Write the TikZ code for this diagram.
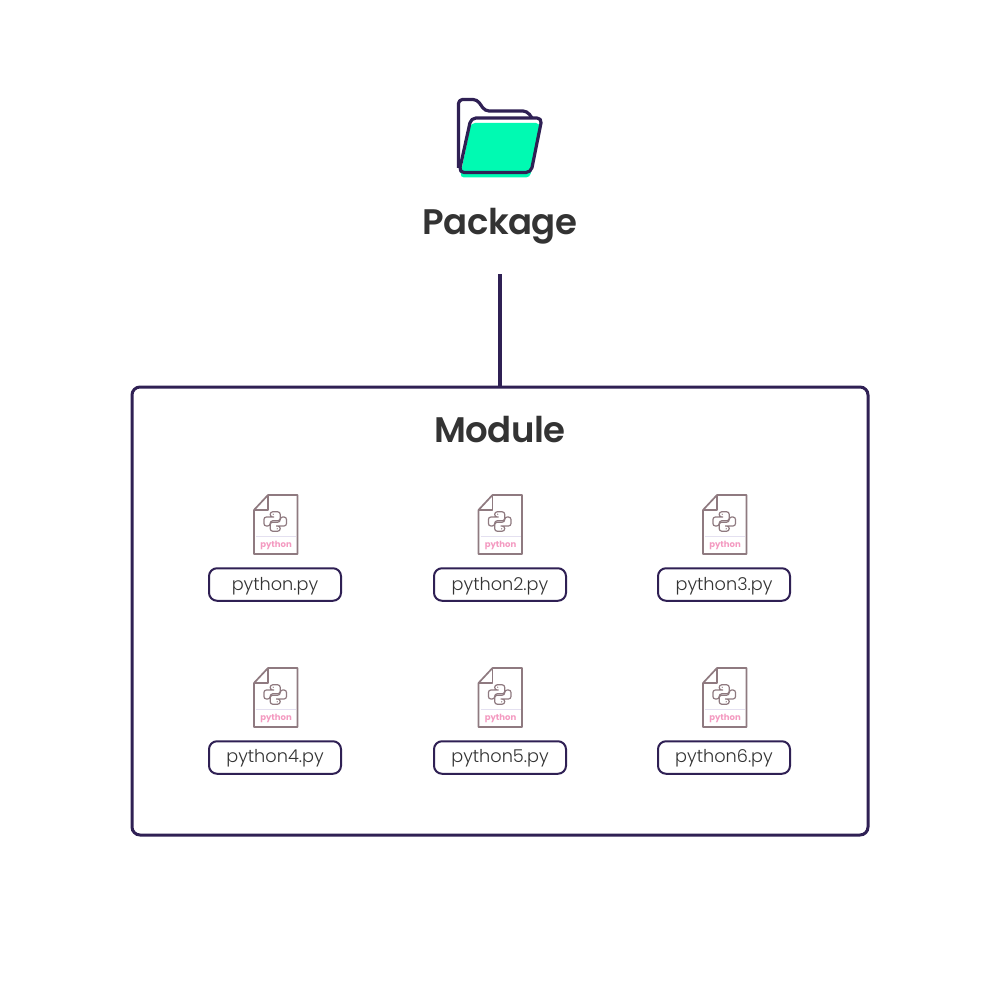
\documentclass[tikz,border=0pt]{standalone}
\usepackage{fontspec}
\setmainfont{Poppins}
\newfontfamily\headfont[LetterSpace=-1.5]{Poppins SemiBold}
\newfontfamily\labelfont{Poppins Light}
\usetikzlibrary{calc}
\definecolor{ink}{HTML}{2F2054}
\definecolor{mint}{HTML}{00FAB2}
\definecolor{txt}{HTML}{333333}
\definecolor{filec}{HTML}{8F7A80}
\definecolor{pinkc}{HTML}{F49AC1}
\definecolor{lav}{HTML}{E4E0F0}
\tikzset{
  x=1pt,y=-1pt,
  headtext/.style={text=txt,font=\headfont\fontsize{35.5}{36}\selectfont,anchor=base,inner sep=0pt},
  filebox/.style={draw=ink,line width=2pt,rounded corners=8pt,minimum width=132pt,minimum height=32.5pt,inner sep=0pt},
  filetext/.style={text=txt,font=\labelfont\fontsize{17.7}{18}\selectfont,anchor=base,inner sep=0pt},
  outerbox/.style={draw=ink,line width=3pt,rounded corners=8pt,minimum width=736pt,minimum height=448pt,inner sep=0pt},
  link/.style={draw=ink,line width=3.5pt},
  pics/pyfile/.style={code={
    \draw[filec,line width=1.7pt,line join=round] (-8,-30) -- (21.5,-30) -- (21.5,29) -- (-22,29) -- (-22,-15) -- cycle;
    \draw[filec,line width=1.7pt,line join=round] (-8,-30) -- (-8,-15) -- (-22,-15);
    \draw[lav,line width=1pt] (-20,11) -- (20,11);
    \node[text=pinkc,font=\fontsize{8.5}{8.5}\selectfont\bfseries,anchor=base,inner sep=0pt] at (0,22.5) {python};
    \foreach \r in {0,180}{
      \begin{scope}[shift={(-0.8,-3.5)},rotate=\r]
      \draw[filec,line width=1.2pt,rounded corners=2.5pt] (0.5,-4.5) -- (-5,-4.5) -- (-5,-9.7) -- (5,-9.7) -- (5,-0.7) -- (-5,-0.7) -- (-5,4.5) -- (-11.3,4.5) -- (-11.3,-4.5) -- cycle;
      \fill[filec] (-2,-7.3) circle (0.7);
      \end{scope}
    }
  }}
}
\begin{document}
\begin{tikzpicture}
\useasboundingbox (0,0) rectangle (1000,1000);
\fill[white] (0,0) rectangle (1000,1000);
% folder
\fill[mint,rounded corners=4pt] (471,123) -- (540,123) -- (530,177.5) -- (460,177.5) -- cycle;
\draw[ink,line width=3.2pt,line join=round,rounded corners=4pt] (458.5,168) -- (458.5,99.5) -- (477,99.5) -- (485,111) -- (527,111) -- (532,118);
\draw[ink,line width=3.2pt,line join=round,rounded corners=5pt] (471,118) -- (542,118) -- (531,172.5) -- (459,172.5) -- cycle;
\node[headtext] (pkg) at (500,235) {Package};
\node[outerbox] (module) at (500,611) {};
\coordinate (linktop) at (500,274);
\draw[link] (linktop) -- (module.north);
\node[headtext] (modtitle) at (500,442) {Module};
\node[filebox] (f1) at (275,584.5) {};
\node[filebox] (f2) at (500,584.5) {};
\node[filebox] (f3) at (724,584.5) {};
\node[filebox] (f4) at (275,757.5) {};
\node[filebox] (f5) at (500,757.5) {};
\node[filebox] (f6) at (724,757.5) {};
\node[filetext] at (275,590) {python.py};
\node[filetext] at (500,590) {python2.py};
\node[filetext] at (724,590) {python3.py};
\node[filetext] at (275,762.5) {python4.py};
\node[filetext] at (500,762.5) {python5.py};
\node[filetext] at (724,762.5) {python6.py};
\pic at (276,525) {pyfile};
\pic at (500.5,525) {pyfile};
\pic at (725,525) {pyfile};
\pic at (276,698) {pyfile};
\pic at (500.5,698) {pyfile};
\pic at (725,698) {pyfile};
\end{tikzpicture}
\end{document}
